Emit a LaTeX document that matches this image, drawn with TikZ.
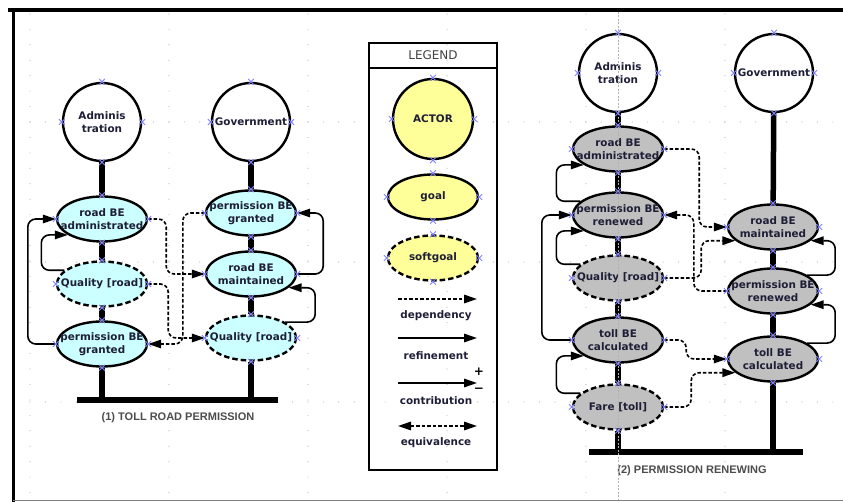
\documentclass[tikz,border=0pt]{standalone}
\usepackage{fontspec}
\setmainfont{DejaVu Sans}
\newfontfamily\capfont{Liberation Sans}
\usetikzlibrary{shapes.geometric,shapes.misc,arrows.meta}

\definecolor{goalcyan}{RGB}{204,255,255}
\definecolor{goalgray}{RGB}{192,192,192}
\definecolor{legyellow}{RGB}{255,255,153}
\definecolor{portblue}{RGB}{130,130,255}
\definecolor{inkblue}{RGB}{30,30,55}

\begin{document}
\begin{tikzpicture}[x=1pt, y=-1pt, >={Triangle[length=13pt,width=8.5pt]},
    font=\fontsize{10.4}{13}\selectfont\bfseries,
    actor/.style={circle, draw, line width=2.4pt, fill=white, minimum size=78pt, inner sep=0pt, align=center, text=inkblue},
    goal/.style={ellipse, draw, line width=2.4pt, minimum width=90pt, minimum height=45pt, inner xsep=-14pt, inner ysep=-8pt, align=center, text=inkblue},
    softgoal/.style={goal, dash pattern=on 5.5pt off 3pt},
    link/.style={line width=5.5pt},
    refine/.style={->, line width=1.6pt, rounded corners=8pt},
    dep/.style={refine, dash pattern=on 3.5pt off 2pt},
    caption/.style={font=\capfont\fontsize{11}{13}\selectfont\bfseries, text=black!70},
    portmark/.style={cross out, draw=portblue, minimum size=5pt, inner sep=0pt, line width=0.8pt},
    griddot/.style={gray!55}]

    \useasboundingbox (0,0) rectangle (843,502);

    % editor grid
    \foreach \gx in {30,169,308,447,586,725}
        \foreach \k in {0,...,31}
            \fill[griddot] (\gx,122+\k*15.44-7*15.44) circle (0.6pt);
    \foreach \gy in {122,262,402}
        \foreach \k in {0,...,53}
            \fill[griddot] (30+\k*15.44-15.44,\gy) circle (0.6pt);

    % frame
    \draw[line width=4pt] (8,10) -- (843,10);
    \draw[line width=3pt] (13,10) -- (13,502);
    \draw[gray, line width=0.8pt] (13,500) -- (843,500);

    % (1) toll road permission
    \node[actor] (admA) at (102,122) {Adminis\\tration};
    \node[actor] (govA) at (251,122) {Government};
    \node[goal, fill=goalcyan] (roadAdmA) at (102,219) {road BE\\administrated};
    \node[softgoal, fill=goalcyan] (qualA) at (102,284) {Quality [road]};
    \node[goal, fill=goalcyan] (permA) at (102,344) {permission BE\\granted};
    \node[goal, fill=goalcyan] (permGovA) at (251,213) {permission BE\\granted};
    \node[goal, fill=goalcyan] (roadMntA) at (251,274) {road BE\\maintained};
    \node[softgoal, fill=goalcyan] (qualGovA) at (251,338) {Quality [road]};
    \coordinate (barA1) at (77,400);
    \coordinate (barA2) at (278,400);

    \path[link]
        (admA) edge (roadAdmA)
        (roadAdmA) edge (qualA)
        (qualA) edge (permA)
        (govA) edge (permGovA)
        (permGovA) edge (roadMntA)
        (roadMntA) edge (qualGovA)
        (permA.south) edge (permA.south |- barA1)
        (qualGovA.south) edge (qualGovA.south |- barA1)
        (barA1) edge (barA2)
        ;

    \draw[refine] (permA.west) -- ++(-28,0) |- (roadAdmA.west);
    \draw[refine] (qualA.160) -- ++(-23,0) |- (roadAdmA.205);
    \draw[refine] (roadMntA.east) -- ++(26,0) |- (permGovA.east);
    \draw[refine] (qualGovA.25) -- ++(30,0) |- (roadMntA.340);
    \draw[dep] (roadAdmA.east) -- ++(18,0) |- (roadMntA.west);
    \draw[dep] (qualA.east) -- ++(20,0) |- (qualGovA.west);
    \draw[dep] (permGovA.west) -- ++(-22,0) |- (permA.east);

    \node[caption] (capA) at (178,418) {(1) TOLL ROAD PERMISSION};

    % legend
    \draw[line width=1.3pt] (369,43) rectangle (497,470);
    \draw[line width=1.3pt] (369,68) -- (497,68);
    \node[font=\fontsize{12}{14}\selectfont, text=black!75] (legTitle) at (433,55) {LEGEND};
    \node[actor, fill=legyellow, minimum size=80pt] (legActor) at (433,119) {ACTOR};
    \node[goal, fill=legyellow] (legGoal) at (433,197) {goal};
    \node[softgoal, fill=legyellow] (legSoft) at (433,258) {softgoal};
    \coordinate (depS) at (398,299);
    \coordinate (depE) at (477,299);
    \coordinate (refS) at (398,338);
    \coordinate (refE) at (477,338);
    \coordinate (conS) at (398,383);
    \coordinate (conE) at (477,383);
    \coordinate (eqvS) at (398,426);
    \coordinate (eqvE) at (477,426);
    \draw[dep] (depS) -- (depE);
    \draw[refine] (refS) -- (refE);
    \draw[refine] (conS) -- (conE);
    \draw[dep, <->] (eqvS) -- (eqvE);
    \node[text=inkblue] (depLbl) at (436,316) {dependency};
    \node[text=inkblue] (refLbl) at (436,356) {refinement};
    \node[text=inkblue] (conLbl) at (436,401) {contribution};
    \node[text=inkblue] (eqvLbl) at (436,443) {equivalence};
    \node[inner sep=0pt, font=\fontsize{12}{12}\selectfont\bfseries] (plus) at (479,372) {+};
    \node[inner sep=0pt, font=\fontsize{12}{12}\selectfont\bfseries] (minus) at (479,390) {−};

    % (2) permission renewing
    \node[actor] (admB) at (618,73) {Adminis\\tration};
    \node[actor] (govB) at (774,73) {Government};
    \node[goal, fill=goalgray] (roadAdmB) at (618,149) {road BE\\administrated};
    \node[goal, fill=goalgray] (permB) at (618,215) {permission BE\\renewed};
    \node[softgoal, fill=goalgray] (qualB) at (618,278) {Quality [road]};
    \node[goal, fill=goalgray] (tollB) at (618,340) {toll BE\\calculated};
    \node[softgoal, fill=goalgray] (fareB) at (618,407) {Fare [toll]};
    \node[goal, fill=goalgray] (roadMntB) at (773,227) {road BE\\maintained};
    \node[goal, fill=goalgray] (permGovB) at (773,291) {permission BE\\renewed};
    \node[goal, fill=goalgray] (tollGovB) at (773,359) {toll BE\\calculated};
    \coordinate (barB1) at (589,452);
    \coordinate (barB2) at (803,452);

    \path[link]
        (admB) edge (roadAdmB)
        (roadAdmB) edge (permB)
        (permB) edge (qualB)
        (qualB) edge (tollB)
        (tollB) edge (fareB)
        (govB) edge (roadMntB)
        (roadMntB) edge (permGovB)
        (permGovB) edge (tollGovB)
        (fareB.south) edge (fareB.south |- barB1)
        (tollGovB.south) edge (tollGovB.south |- barB1)
        (barB1) edge (barB2)
        ;

    \draw[refine] (permB.160) -- ++(-24,0) |- (roadAdmB.205);
    \draw[refine] (tollB.west) -- ++(-30,0) |- (permB.west);
    \draw[refine] (qualB.160) -- ++(-24,0) |- (permB.205);
    \draw[refine] (fareB.160) -- ++(-24,0) |- (tollB.205);
    \draw[refine] (permGovB.25) -- ++(28,0) |- (roadMntB.340);
    \draw[refine] (tollGovB.25) -- ++(28,0) |- (permGovB.340);
    \draw[dep] (roadAdmB.east) -- ++(35,0) |- (roadMntB.west);
    \draw[dep] (permGovB.west) -- ++(-33,0) |- (permB.east);
    \draw[dep] (qualB.east) -- ++(37,0) |- (roadMntB.200);
    \draw[dep] (tollB.east) -- ++(22,0) |- (tollGovB.west);
    \draw[dep] (fareB.east) -- ++(27,0) |- (tollGovB.200);

    \node[caption] (capB) at (692,471) {(2) PERMISSION RENEWING};

    % guide line of the editor
    \draw[gray!60, line width=0.4pt, dash pattern=on 2pt off 1.5pt] (618,12) -- (618,500);

    % ports
    \foreach \n in {admA,govA,roadAdmA,qualA,permA,permGovA,roadMntA,qualGovA,
                    legActor,legGoal,legSoft,
                    admB,govB,roadAdmB,permB,qualB,tollB,fareB,roadMntB,permGovB,tollGovB}
        \foreach \a in {north,south,east,west}
            \node[portmark] at (\n.\a) {};
\end{tikzpicture}
\end{document}
